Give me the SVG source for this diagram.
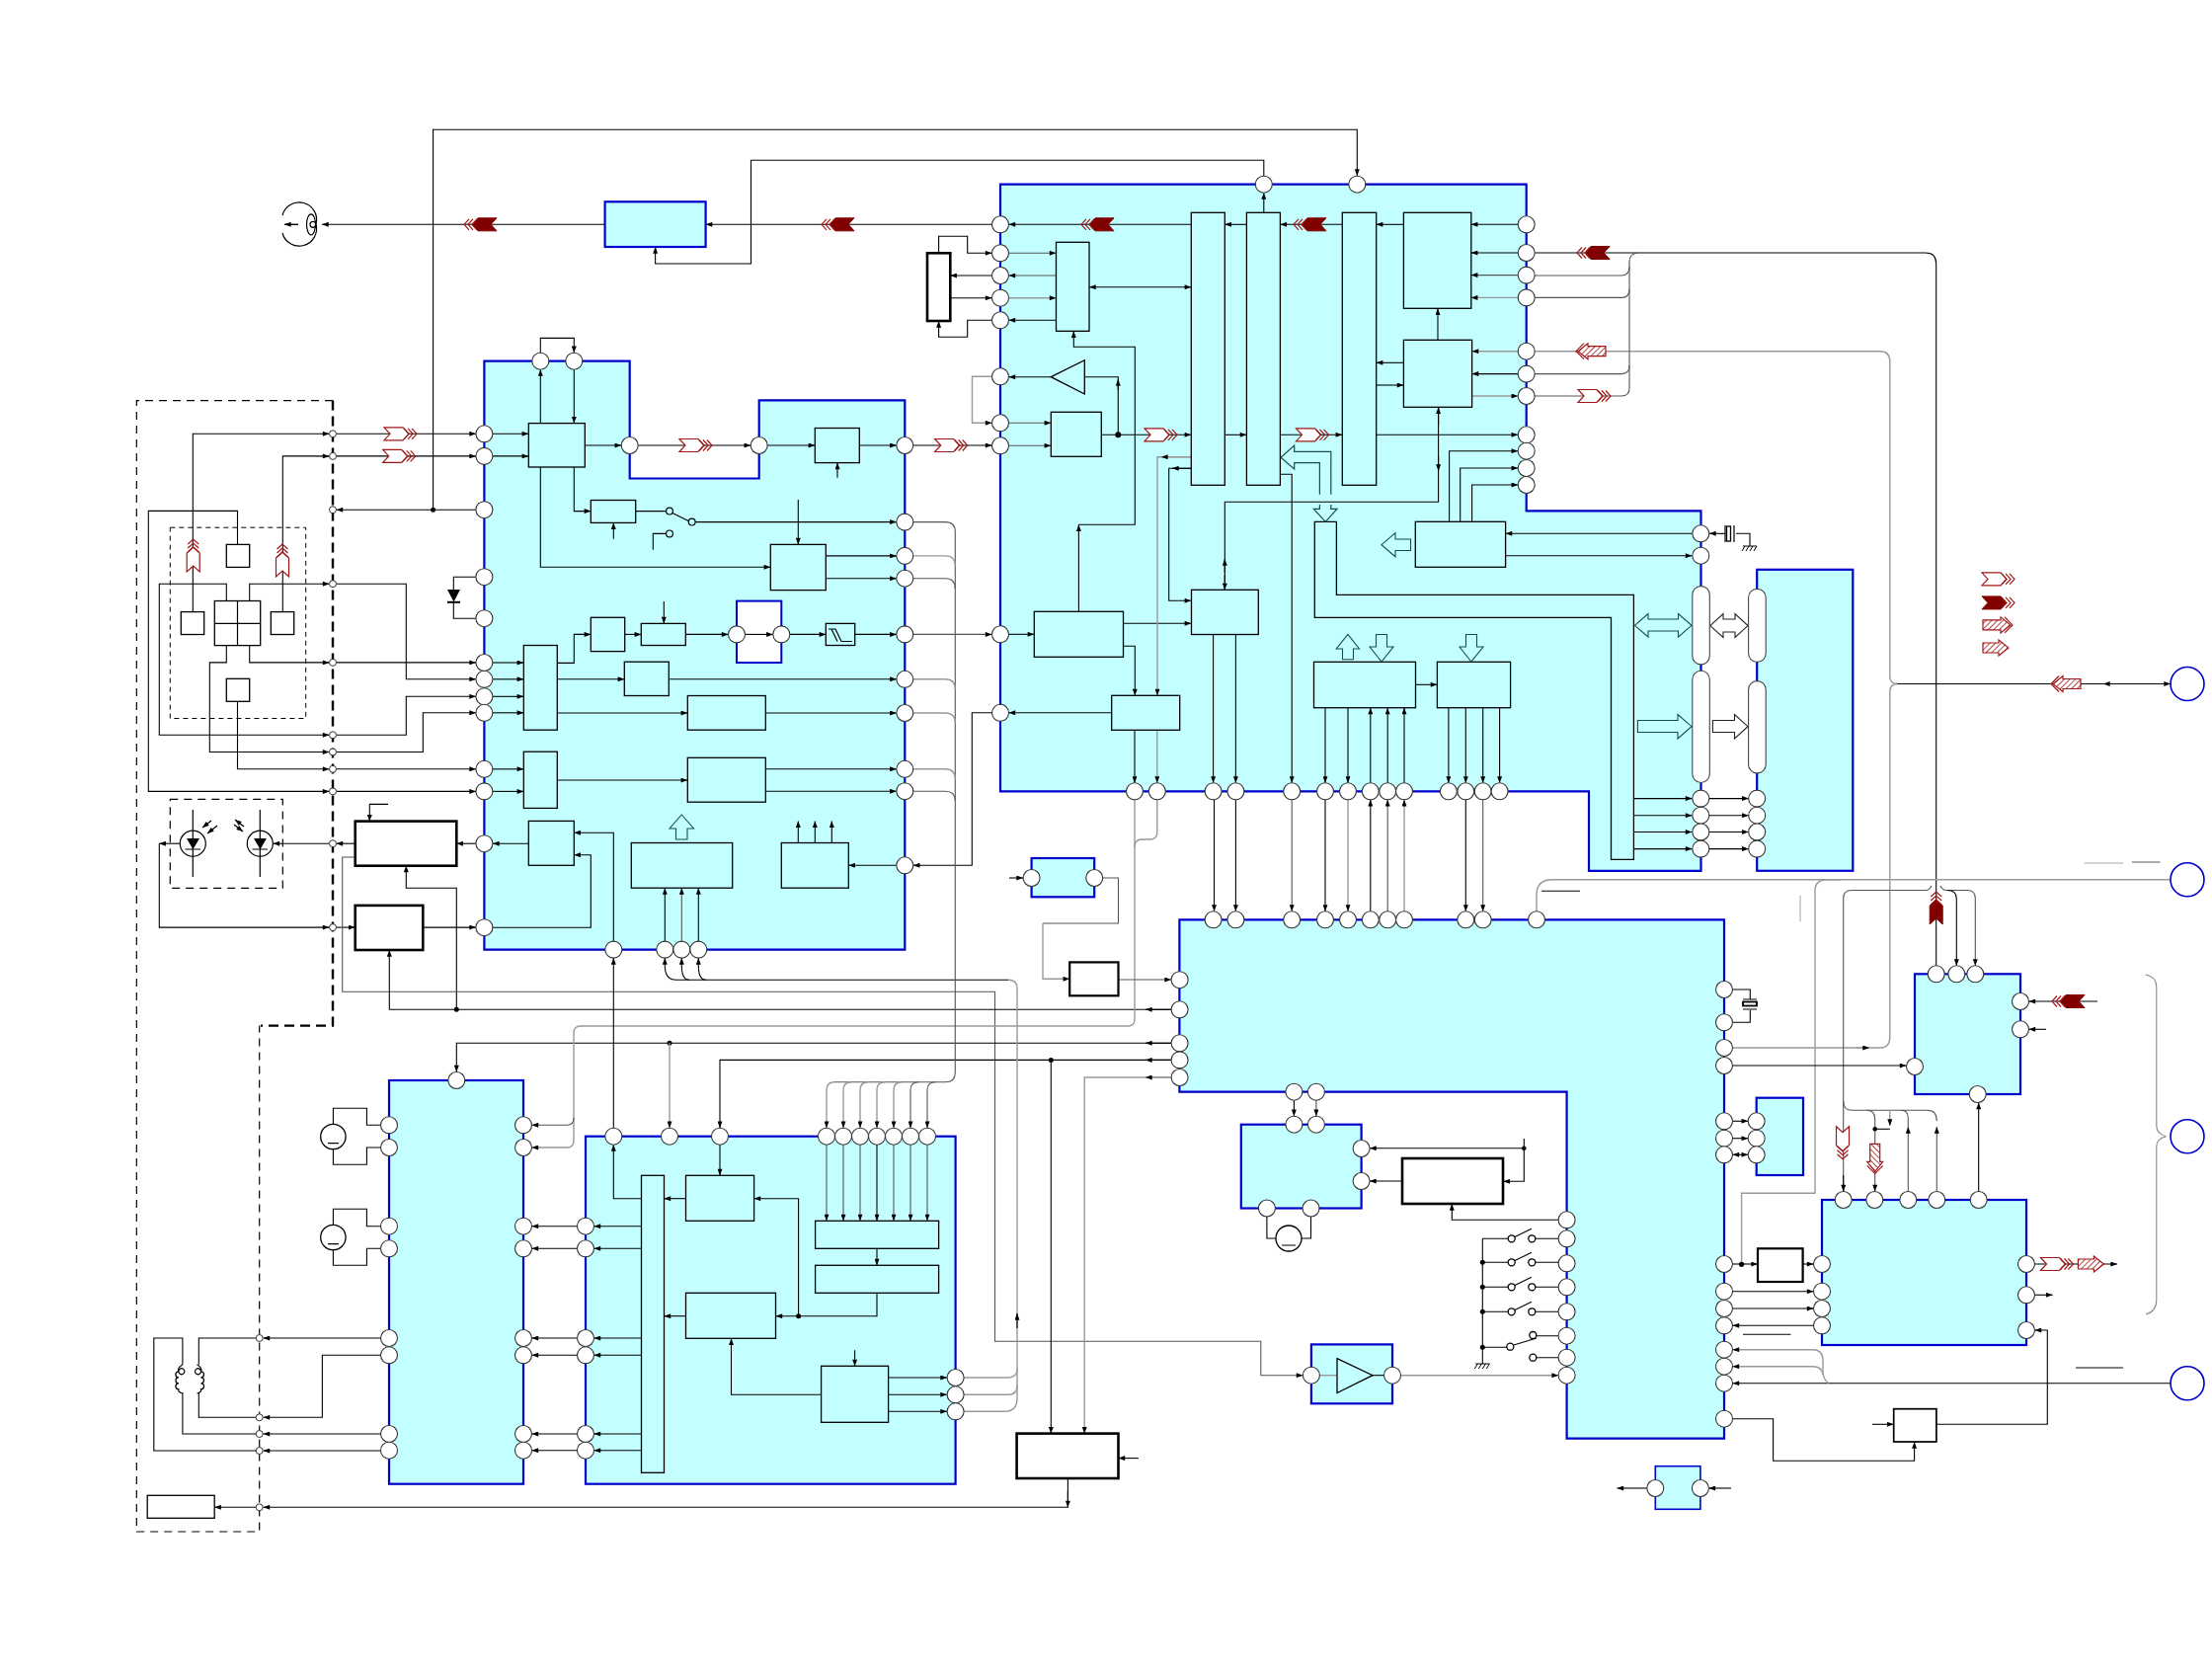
<svg xmlns="http://www.w3.org/2000/svg" width="2240" height="1684" viewBox="0 0 2240 1684">
<style>
.bk{fill:#c4ffff;stroke:#0000cc;stroke-width:2.2}
.bw{fill:#fff;stroke:#0000cc;stroke-width:2}
.x{fill:#c4ffff;stroke:#000;stroke-width:1.3}
.t{fill:#fff;stroke:#000;stroke-width:2.6}
.w{fill:#fff;stroke:#000;stroke-width:1.3}
.p{fill:#fff;stroke:#333;stroke-width:1.1}
.cap{fill:#fff;stroke:#444;stroke-width:1.1}
.big{fill:#fff;stroke:#0000cc;stroke-width:1.6}
#connectors path{fill:none;stroke:#000;stroke-width:1.1}
#connectors path.a{marker-end:url(#h)}
#connectors path.b{marker-start:url(#hs)}
#connectors path.g{stroke:#999;stroke-width:1.4}
#connectors path.d{stroke:#555}
#connectors circle{fill:#000}
.ln{fill:none;stroke:#000;stroke-width:1.2}
.o{fill:#c4ffff;stroke:#1d4a4a;stroke-width:1.1}
.ow{fill:#fff;stroke:#222;stroke-width:1.1}
.rh{fill:none;stroke:#a01818;stroke-width:1.2}
.rf{fill:#800000;stroke:#800000;stroke-width:1}
.rx{fill:url(#hatch);stroke:#a01818;stroke-width:1.2}
.dsh{fill:none;stroke:#000;stroke-width:1.2;stroke-dasharray:8 6}
.dsk{fill:none;stroke:#000;stroke-width:2.4;stroke-dasharray:10 6}
.dsi{fill:none;stroke:#000;stroke-width:1;stroke-dasharray:5 4}
</style>
<defs>
<marker id="h" viewBox="0 0 8 6" refX="8" refY="3" markerUnits="userSpaceOnUse" markerWidth="8" markerHeight="5" orient="auto"><path d="M0 0L8 3L0 6z" fill="#000"/></marker>
<marker id="hs" viewBox="0 0 8 6" refX="8" refY="3" markerUnits="userSpaceOnUse" markerWidth="8" markerHeight="5" orient="auto-start-reverse"><path d="M0 0L8 3L0 6z" fill="#000"/></marker>
<pattern id="hatch" width="4" height="4" patternUnits="userSpaceOnUse" patternTransform="rotate(45)"><rect width="4" height="4" fill="#fff"/><path d="M0 0V4" stroke="#a01818" stroke-width="1.6"/></pattern>
<g id="chev3"><path class="rh" d="M5 -5.5L10 0L5 5.5M9 -5.5L14 0L9 5.5M13 -5.5L18 0L13 5.5"/></g>
<g id="cr"><path class="rh" d="M-16 -6.5H3L9 0L3 6.5H-16L-10 0Z" style="fill:#fff"/><use href="#chev3" x="-1"/></g>
<g id="cf"><path class="rf" d="M-16 -6.5H3L9 0L3 6.5H-16L-10 0Z"/><use href="#chev3" x="-1"/></g>
<g id="hl"><path class="rx" d="M-15 -5H3V-8L13 0L3 8V5H-15Z"/><path class="rh" d="M7 -8L15 0L7 8"/></g>
<g id="hs2"><path class="rx" d="M-13 -5H3V-8L13 0L3 8V5H-13Z"/></g>
<path id="gnd" d="M-7 0H7M-5 0L-8 5M-1 0L-4 5M3 0L0 5M7 0L4 5" fill="none" stroke="#000" stroke-width="1"/>
</defs>
<rect width="2240" height="1684" fill="#fff"/>

<g id="frames">
<path class="dsh" d="M337 405.6H138.3V1551H262.7V1038.6"/>
<path class="dsk" d="M337 405.6V1038.6H264"/>
<rect class="dsi" x="172.3" y="534.2" width="137.4" height="193.3"/>
<rect class="dsh" x="172.3" y="809.4" width="114" height="89.9"/>
</g>

<g id="blocks">
<path id="blockA" class="bk" d="M490.4 365.7H637.7V484.5H768.7V405.3H916.3V961.6H490.4Z"/>
<rect id="insetA" class="bw" x="746" y="608.6" width="45.3" height="62.4"/>
<path id="blockB" class="bk" d="M1013 186.7H1545.7V517.3H1722.5V881.8H1609V801.3H1013Z"/>
<rect id="blockT" class="bk" x="612.6" y="204.3" width="102" height="45.7"/>
<rect id="blockM" class="bk" x="1779.2" y="576.8" width="97.1" height="305"/>
<rect id="blockF" class="bk" x="1044.6" y="869" width="63.6" height="39.3"/>
<path id="blockE" class="bk" d="M1194.4 931.3H1746V1456.7H1586.6V1105.7H1194.4Z"/>
<rect id="blockC" class="bk" x="394" y="1094" width="136" height="408.7"/>
<rect id="blockD" class="bk" x="593" y="1150.7" width="374.6" height="352"/>
<rect id="blockH" class="bk" x="1256.8" y="1138.7" width="121.8" height="84.8"/>
<rect id="blockJ" class="bk" x="1327.9" y="1361.4" width="82.1" height="59.9"/>
<rect id="blockN" class="bk" x="1778.7" y="1111.7" width="47.3" height="78.3"/>
<rect id="blockP" class="bk" x="1939" y="986.3" width="107" height="121.7"/>
<rect id="blockR" class="bk" x="1845" y="1215" width="207" height="147"/>
<rect id="blockU" class="bk" x="1676.3" y="1484.7" width="45.6" height="43.6" style="stroke-width:1.6"/>
</g>

<g id="connectors">
<path class="a" d="M195.3 619.6V439.3H333.5"/><path class="a" d="M340.5 439.3H482"/>
<path class="a" d="M286.3 619.6V461.9H333.5"/><path class="a" d="M340.5 461.9H482"/>
<path class="a" d="M240.5 551.4V517.4H150.3V801.4H333.5"/><path class="a" d="M340.5 801.4H482"/>
<path class="a" d="M229.3 608.5V591.2H161.3V744.3H333.5"/><path class="a" d="M340.5 744.3H411.3V705.3H482"/>
<path class="a" d="M252.7 608.5V591.2H333.5"/><path class="a" d="M340.5 591.2H411.3V687.7H482"/>
<path class="a" d="M252.7 653.6V670.9H333.5"/><path class="a" d="M340.5 670.9H482"/>
<path class="a" d="M229.3 653.6V670.9H212.3V761.5H333.5"/><path class="a" d="M340.5 761.5H428.3V721.8H482"/>
<path class="a" d="M240.5 710.3V778.8H333.5"/><path class="a" d="M340.5 778.8H482"/>
<path class="a" d="M482 516.2H340.5"/><circle cx="438.6" cy="516.2" r="2.5"/>
<path class="a" d="M438.6 516.2V131.3H1374.3V178"/>
<path d="M482 584.2H459.3V597M459.3 609.6V626.2H482"/>
<path class="a" d="M182 854.2H161.3"/><path class="a" d="M161.3 854.2V939.1H333.5"/><path class="a" d="M340.5 939.1H359.7"/>
<path class="a" d="M428.3 939.1H482"/><path class="a" d="M482 854.2H462.3"/><path class="a" d="M359.7 854.2H340.5"/><path class="a" d="M333.5 854.2H276.5"/>
<path class="a" d="M393 814.4H374.3V831.6"/>
<path class="a" d="M462.3 1022.3V899.3H411.3V876.7"/><circle cx="462.3" cy="1022.3" r="2.5"/>
<path class="d" d="M359.7 868H346.7V1004.3H1007.5V1358.3H1276.8V1392.7"/><path class="a d" d="M1276.8 1392.7H1319.4"/>
<path class="a" d="M1186 1022.3H394.3V962"/><path class="a" d="M1186 1022.3H1160"/>
<path class="a" d="M1186 1056.3H462.3V1085.5"/><path class="a" d="M1186 1056.3H1160"/><circle cx="678" cy="1056.3" r="2.5"/>
<path class="a g" d="M678 1056.3V1142.2"/>
<path class="a" d="M1186 1073.4H729V1142.2"/><path class="a" d="M1186 1073.4H1160"/><circle cx="1064.3" cy="1073.4" r="2.5"/>
<path class="a" d="M1064.3 1073.4V1451.6"/>
<path class="a g" d="M1186 1091H1098.2V1451.6"/><path class="a g" d="M1186 1091H1160"/>
<path class="g" d="M1149 809.8V1032Q1149 1039 1142 1039H588Q581 1039 581 1046V1155"/>
<path class="a d" d="M581 1132Q581 1139.3 574 1139.3H538.5"/>
<path class="a g" d="M581 1155Q581 1162 574 1162H538.5"/>
<path class="g" d="M1171.8 809.8V843Q1171.8 850 1164 850H1156Q1149 850 1149 858"/>
<path d="M685 992.3H1021"/><path class="g" d="M1021 992.3Q1030 992.3 1030 1001V1416Q1030 1429.3 1017 1429.3H976"/>
<path class="g" d="M1030 1386Q1030 1395 1021 1395H976"/><path class="g" d="M1030 1403Q1030 1412.3 1021 1412.3H976"/>
<path class="a" d="M1030 1345V1330"/>
<path class="a" d="M685 992.3Q673.3 992.3 673.3 978V970.1"/><path class="a" d="M698 992.3Q690.3 992.3 690.3 978V970.1"/><path class="a" d="M715 992.3Q707.3 992.3 707.3 978V970.1"/>
<path class="a" d="M621.3 1142.2V970.1"/><path class="a" d="M621.3 953V843.3H581.3"/>
<path class="a" d="M649.5 1213.7H621.3V1159.2"/>
<path class="a" d="M673.3 953V899.2"/><path class="a d" d="M690.3 953V899.2"/><path class="a" d="M707.3 953V899.2"/>
<path class="a" d="M499 939.2H598.3V865.7H581.3"/><path class="a" d="M535.3 854.2H499"/>
<path class="a" d="M547.3 428.6V374.2"/><path class="a" d="M581.3 374V428.6"/><path class="a" d="M547.3 357V342.4H581.3V357.2"/>
<path class="a" d="M499 439.3H535.3"/><path class="a" d="M499 461.9H535.3"/>
<path class="a" d="M592.3 451H629.2"/><path class="a" d="M646.2 451H760.2"/><path class="a" d="M777.2 451H825.3"/><path class="a" d="M870.3 451H907.8"/><path class="a" d="M848 483.7V468.6"/>
<path class="a" d="M924.8 451H1004.5"/>
<path class="a" d="M581.3 473V517.6H598.3"/><path class="a" d="M621.3 545.7V529.4"/>
<path d="M643.7 517.6H674.5M681 519.5L697.7 527.7M674.5 540.4H661.3V556.7"/>
<path class="a" d="M704.2 528.6H907.8"/><path class="a" d="M808.3 506V551.4"/>
<path class="a" d="M547.3 473V574.3H780.3"/><path class="a" d="M836.3 562.9H907.8"/><path class="a" d="M836.3 585.7H907.8"/>
<path class="a" d="M499 671H530.3"/><path class="a" d="M499 687.8H530.3"/><path class="a" d="M499 705.3H530.3"/><path class="a" d="M499 721.8H530.3"/>
<path class="a" d="M564.3 671.4H581.3V642.4H598.3"/><path class="a" d="M632.7 642.4H649.3"/><path class="a" d="M694.3 642.4H737.5"/><path class="a" d="M754.5 642.4H782.8"/><path class="a" d="M799.8 642.4H836.3"/><path class="a" d="M865.7 642.4H907.8"/><path class="a" d="M672.3 609V631.4"/>
<path class="a" d="M564.3 687.8H632.3"/><path class="a" d="M677.3 687.8H907.8"/><path class="a" d="M564.3 722H696.3"/><path class="a" d="M775.3 722H907.8"/>
<path class="a" d="M499 778.8H530.3"/><path class="a" d="M499 801.4H530.3"/><path class="a" d="M564.3 790H696.3"/><path class="a" d="M775.3 778.8H907.8"/><path class="a" d="M775.3 801.2H907.8"/>
<path class="a d" d="M924.8 642.4H1004.5"/>
<path class="a" d="M1125.7 721.8H1021.5"/><path class="a" d="M1004.5 721.8H984.3V876.3H924.8"/><path class="a" d="M907.8 876.3H859.3"/>
<path class="a" d="M808.3 853.5V831.4"/><path class="a" d="M825.3 853.5V831.4"/><path class="a" d="M842.3 853.5V831.4"/>
<path class="d" d="M924.8 528.6H957.3Q967.3 528.6 967.3 538.6V1086Q967.3 1095.8 957.3 1095.8H845"/>
<path class="g" d="M924.8 562.9H957.3Q967.3 562.9 967.3 573"/><path class="d" d="M924.8 585.7H957.3Q967.3 585.7 967.3 596"/>
<path class="g" d="M924.8 687.8H957.3Q967.3 687.8 967.3 698"/><path class="g" d="M924.8 722H957.3Q967.3 722 967.3 732"/>
<path class="g" d="M924.8 778.8H957.3Q967.3 778.8 967.3 789"/><path class="d" d="M924.8 801.2H957.3Q967.3 801.2 967.3 811"/>
<path class="a g" d="M845 1095.8Q837 1095.8 837 1104V1142.2"/><path class="a g" d="M862 1095.8Q854 1095.8 854 1104V1142.2"/><path class="a g" d="M879 1095.8Q871 1095.8 871 1104V1142.2"/><path class="a g" d="M896 1095.8Q888 1095.8 888 1104V1142.2"/><path class="a g" d="M913 1095.8Q905 1095.8 905 1104V1142.2"/><path class="a d" d="M930 1095.8Q922 1095.8 922 1104V1142.2"/><path class="a d" d="M947 1095.8Q939 1095.8 939 1104V1142.2"/>
<path class="a d" d="M837 1159.2V1236.3"/><path class="a d" d="M854 1159.2V1236.3"/><path class="a d" d="M871 1159.2V1236.3"/><path class="a" d="M888 1159.2V1236.3"/><path class="a d" d="M905 1159.2V1236.3"/><path class="a d" d="M922 1159.2V1236.3"/><path class="a d" d="M939 1159.2V1236.3"/>
<path class="a" d="M888 1264.3V1281.3"/><path class="a" d="M888 1309.3V1332.7H785.5"/><circle cx="808.6" cy="1332.7" r="2.5"/>
<path class="a" d="M808.6 1332.7V1213.7H763.6"/><path class="a" d="M694.5 1213.7H672.5"/><path class="a" d="M694.5 1332.7H672.5"/>
<path class="a" d="M729 1159.2V1190.3"/><path class="a" d="M831.6 1412.3H740.5V1355.3"/><path class="a" d="M865.6 1367.3V1383.3"/>
<path class="a" d="M899.6 1395H959"/><path class="a" d="M899.6 1412.3H959"/><path class="a" d="M899.6 1429.3H959"/>
<path class="a" d="M649.5 1241.7H601.5"/><path class="a" d="M649.5 1264.3H601.5"/><path class="a" d="M649.5 1355H601.5"/><path class="a" d="M649.5 1372.3H601.5"/><path class="a" d="M649.5 1452H601.5"/><path class="a" d="M649.5 1468.7H601.5"/>
<path class="a" d="M584.5 1241.7H538.5"/><path class="a" d="M584.5 1264.3H538.5"/><path class="a" d="M584.5 1355H538.5"/><path class="a" d="M584.5 1372.3H538.5"/><path class="a" d="M584.5 1452H538.5"/><path class="a" d="M584.5 1468.7H538.5"/>
<path class="a" d="M385.5 1355H266.5"/><path class="a" d="M385.5 1372.3H326.4V1435.3H266.5"/><path class="a" d="M385.5 1452H266.5"/><path class="a" d="M385.5 1469H266.5"/>
<path d="M259 1355H201.3V1381.7M201.3 1410V1435.3H259M259 1469H155.8V1355H184.9V1381.7M184.9 1410V1452H259"/>
<path d="M337.4 1138V1122.3H371.4V1139.3H385.5M337.4 1164V1179.3H371.4V1162H385.5M337.4 1240V1224.3H371.4V1241.7H385.5M337.4 1266V1281.3H371.4V1264.3H385.5"/>

<path class="a" d="M1206.3 227.3H1021.5"/><path class="a" d="M1262.4 227.3H1240.3"/><path class="a" d="M1359.3 227.3H1296.4"/><path class="a" d="M1421.4 227.3H1393.7"/>
<path class="a" d="M1537.2 227.3H1489.8"/><path class="a" d="M1537.2 256H1489.8"/><path class="a d" d="M1537.2 278.6H1489.8"/><path class="a g" d="M1537.2 301.4H1489.8"/>
<path class="a" d="M1279.8 215.3V195.2"/><path class="a" d="M1279.8 178.2V162.3H760.5V267H663.6V250"/>
<path class="a" d="M1004.5 227.3H714.6"/><path class="a" d="M612.6 227.3H326"/>
<path class="a d" d="M1021.5 256.3H1069.5"/><path class="a d" d="M1069.5 279H1021.5"/><path class="a g" d="M1021.5 301.7H1069.5"/><path class="a" d="M1069.5 324.3H1021.5"/>
<path class="a" d="M950.6 256.3V239.3H979.7V256.3H1004.5"/><path class="a" d="M1004.5 279H962.3"/><path class="a" d="M962.3 301.7H1004.5"/><path class="a" d="M1004.5 324.3H979.7V341.3H950.6V325"/>
<path class="a b" d="M1103 290.7H1206.3"/>
<path d="M1098.3 381.7H1132.3V440"/><path class="a" d="M1132.3 395V384"/><path class="a" d="M1064.3 381.7H1021.5"/>
<path class="a g" d="M1004.5 381.3H984.5V428.3H1004.5"/>
<path class="a d" d="M1021.5 428.3H1064.3"/><path class="a d" d="M1021.5 451.3H1064.3"/>
<path class="a" d="M1115.3 440.3H1206.3"/><path class="a" d="M1240.3 440.3H1262.4"/><path class="a" d="M1296.4 440.3H1359.3"/><path class="a" d="M1393.7 440.3H1537.2"/><circle cx="1132.3" cy="440.3" r="3"/>
<path class="a" d="M1092.4 619.3V531.3"/><path class="a" d="M1092.4 531.3H1149.3V351.3H1087.3V335.3"/>
<path class="a" d="M1137.5 654.3H1149.3V704.3"/>
<path class="a" d="M1021.5 642.3H1047.3"/><path class="a" d="M1137.5 631.3H1206.3"/>
<path class="a g" d="M1206.3 462.7H1172V704.3"/><path class="a g" d="M1206.3 462.7H1176"/>
<path class="a" d="M1149 739.3V792.8"/><path class="a g" d="M1171.8 739.3V792.8"/>
<path class="a" d="M1206.3 474.3H1183.7V608.3H1206.3"/><path class="a" d="M1206.3 474.3H1187"/>
<path class="a" d="M1228.6 642.7V792.8"/><path class="a" d="M1251.4 642.7V792.8"/>
<path class="a" d="M1229.5 809.8V922.8"/><path class="a" d="M1251.4 809.8V922.8"/>
<path d="M1240.3 597.3V508.3H1456.6V412.3"/><path class="a" d="M1240.3 582V597.3"/><path class="a" d="M1240.3 580V566"/><path class="a" d="M1456.6 430V412.3"/><path class="a" d="M1456.6 462V477"/>
<path class="a" d="M1456 344.3V312.3"/>
<path class="a g" d="M1537.2 355.7H1490.6"/><path class="a" d="M1537.2 378.6H1490.6"/><path class="a g" d="M1490.6 401H1537.2"/>
<path class="a" d="M1421.4 367.3H1393.7"/><path class="a" d="M1393.7 390H1421.4"/>
<path class="a" d="M1467.6 528.3V456.7H1537.2"/><path class="a" d="M1478.7 528.3V474H1537.2"/><path class="a" d="M1490.6 528.3V491H1537.2"/>
<path class="a" d="M1713.5 540.3H1524.6"/><path class="a" d="M1524.6 562.7H1713.5"/>
<path class="a" d="M1747 540.3H1731"/><path d="M1758 540.3H1772V553"/>
<path class="a" d="M1296.4 480.3H1308.2V792.8"/><path class="a d" d="M1308.2 809.8V922.8"/>
<path class="a" d="M1342 716.7V792.8"/><path class="a" d="M1365 716.7V792.8"/><path class="a" d="M1387.8 792.8V716.7"/><path class="a" d="M1405.2 792.8V716.7"/><path class="a" d="M1422 792.8V716.7"/>
<path class="a" d="M1433.5 693.3H1455.4"/>
<path class="a" d="M1466.9 716.7V792.8"/><path class="a" d="M1484.3 716.7V792.8"/><path class="a" d="M1501.7 716.7V792.8"/><path class="a" d="M1518.6 716.7V792.8"/>
<path class="a" d="M1342 809.8V922.8"/><path class="a g" d="M1365 809.8V922.8"/><path class="a" d="M1387.8 922.8V809.8"/><path class="a d" d="M1405.2 922.8V809.8"/><path class="a g" d="M1422 922.8V809.8"/>
<path class="a" d="M1484.3 809.8V922.8"/><path class="a d" d="M1501.7 809.8V922.8"/>
<path class="a" d="M1654.4 808.6H1713.5"/><path class="a" d="M1654.4 825.7H1713.5"/><path class="a" d="M1654.4 842.5H1713.5"/><path class="a" d="M1654.4 859.6H1713.5"/>
<path class="a" d="M1731 808.6H1770.7"/><path class="a" d="M1731 825.7H1770.7"/><path class="a" d="M1731 842.5H1770.7"/><path class="a" d="M1731 859.6H1770.7"/>

<path class="g" d="M1554.2 355.7H1903.8Q1913.8 355.7 1913.8 366V685Q1913.8 692 1921 692.5"/>
<path class="g" d="M1921 692.5Q1913.8 693 1913.8 700V1050Q1913.8 1061 1904 1061H1754.5"/>
<path class="a g" d="M1880 1061H1893"/>
<path d="M2198 692.5H1921"/><path class="a" d="M2190 692.5H2198"/><path class="a" d="M2140 692.5H2130"/>
<path d="M1554.2 256H1950Q1960.7 256 1960.7 267V977.8"/>
<path class="d" d="M1554.2 279H1642Q1650 279 1650 270"/><path class="d" d="M1554.2 301.4H1642Q1650 301.4 1650 293"/>
<path class="d" d="M1554.2 378.6H1642Q1650 378.6 1650 370"/><path class="d" d="M1554.2 401H1642Q1650 401 1650 393V265Q1650 257 1658 256"/>
<path class="g" d="M2198 890.7H1572Q1556 890.7 1556 906V922.8"/>
<path class="g" d="M1865 890.7H1850Q1838 890.7 1838 902V1208.3H1763.6V1280"/>
<path class="d" d="M1956 897Q1954 901.5 1950 901.5H1875Q1866.7 901.5 1866.7 909.5V1206.5"/><path class="a" d="M1866.7 1190V1206.5"/>
<path class="a d" d="M1965 897Q1967 901.5 1971 901.5H1992Q2000.3 901.5 2000.3 909.5V977.8"/>
<path class="a" d="M1972 901.5Q1981.3 901.5 1981.3 910V977.8"/>
<path class="d" d="M1866.7 1115Q1866.7 1124.3 1875 1124.3H1952Q1961.3 1124.3 1961.3 1135"/>
<path class="a d" d="M1961.3 1206.5V1141"/><path class="a d" d="M1932.3 1206.5V1141"/>
<path class="d" d="M1925 1124.3Q1932.3 1124.3 1932.3 1132V1141"/>
<path class="a d" d="M1890 1124.3Q1898.7 1124.3 1898.7 1133V1206.5"/>
<circle cx="1898.7" cy="1143.3" r="2.3"/>
<path class="a g" d="M1913.8 1124V1140"/><path d="M1913.8 1143.3H1898.7"/>
<path class="a" d="M2003.7 1206.5V1116.5"/>
<path class="a" d="M1754.5 1079H1930.5"/><path class="a" d="M2124 1014H2054.5"/><path class="a" d="M2072 1042.3H2054.5"/>
<path d="M1754.5 1002H1772.3V1012M1772.3 1023V1035.3H1754.5"/>
<path class="a" d="M1754.5 1135.3H1770.2"/><path class="a" d="M1754.5 1152.7H1770.2"/><path class="a b" d="M1754.5 1169.3H1770.2"/>
<path class="a" d="M1754.5 1280H1780"/><circle cx="1763.6" cy="1280.3" r="2.6"/><path class="a" d="M1825.6 1280H1836.5"/>
<path class="a" d="M1754.5 1307.7H1836.5"/><path class="a" d="M1754.5 1325H1836.5"/><path class="a" d="M1836.5 1342.3H1754.5"/>
<path class="a" d="M2198 1400.7H1754.5"/>
<path class="a g" d="M1852 1400.7Q1847 1398 1846 1390V1376Q1845 1366.7 1836 1366.7H1754.5"/>
<path class="a g" d="M1846 1392Q1845 1383.7 1836 1383.7H1754.5"/>
<path class="a" d="M1754.5 1436.7H1795.6V1479.3H1938.6V1460"/>
<path class="a" d="M1896 1442.3H1917.7"/><path class="a" d="M1960.9 1442.3H2073.3V1347H2060.5"/>
<path class="a" d="M2060.5 1280H2144"/><path class="a" d="M2060.5 1311.3H2078.6"/>
<path class="a" d="M1667.8 1507H1637.5"/><path class="a" d="M1753 1507H1730.4"/>
<path class="a" d="M1310.4 1114.2V1130.2"/><path class="a d" d="M1332.9 1114.2V1130.2"/>
<path class="a" d="M1543.3 1162.7H1387"/><path d="M1543.3 1153V1162.7"/><path class="a" d="M1543.3 1162.7V1196.3H1522.3"/><path class="a" d="M1420 1196H1387"/><circle cx="1543.3" cy="1162.7" r="2.3"/>
<path class="a" d="M1578.1 1235.3H1470.3V1219"/>
<path d="M1282.9 1232V1254H1292M1327.5 1232V1254H1318"/>
<path class="g" d="M1336.4 1392.7H1354"/><path d="M1390 1392.7H1401.5"/><path class="a g" d="M1418.5 1392.7H1578.1"/>
<path class="a" d="M1022 889H1036"/><path class="d" d="M1116.7 889H1132.5V935H1056"/><path class="a g" d="M1056 935V991.3H1083.2"/><path class="a d" d="M1132.5 992H1186"/>
<path class="a" d="M1152.9 1476.6H1132.5"/><path class="a" d="M1081.4 1497V1526.3H266.5"/><path class="a" d="M1081.4 1510V1526.3"/><path class="a" d="M259 1526.3H217.2"/>
<path d="M1501.3 1254.3V1381M1501.3 1254.3H1527.2M1501.3 1278.3H1527.2M1501.3 1303.3H1527.2M1501.3 1328.3H1527.2M1501.3 1364.3H1525.8"/>
<path d="M1534 1252.5L1551 1244.3M1534 1276.5L1551 1268.3M1534 1301.5L1551 1293.3M1534 1326.5L1551 1318.3M1533 1362L1556 1355"/>
<path d="M1554.8 1254.3H1578.1M1554.8 1278.3H1578.1M1554.8 1303.3H1578.1M1554.8 1328.3H1578.1M1555.8 1352.7H1578.1M1555.8 1374.7H1578.1"/>
<circle cx="1501.3" cy="1278.3" r="2.5"/><circle cx="1501.3" cy="1303.3" r="2.5"/><circle cx="1501.3" cy="1328.3" r="2.5"/><circle cx="1501.3" cy="1364.3" r="2.5"/>
<path d="M2172.8 987Q2183.8 989 2183.8 1000V1140Q2183.8 1148 2193.5 1150.7Q2183.8 1153 2183.8 1161V1316Q2183.8 1328 2173 1331" style="stroke:#888"/>
<path d="M1561 902.3H1600"/><path d="M1765 1351.3H1813.5"/><path d="M2102 1385H2150"/>
<path d="M1823 906.7V933.3" style="stroke:#aaa"/><path d="M2110.5 874H2150" style="stroke:#aaa"/><path d="M2159 873H2187.5" style="stroke:#666"/>
</g>

<g id="optics">
<rect class="w" x="229.3" y="551.4" width="23.4" height="23"/>
<rect class="w" x="183.3" y="619.6" width="23.4" height="22.9"/>
<rect class="w" x="274.3" y="619.6" width="23.4" height="22.9"/>
<rect class="w" x="217.3" y="608.5" width="46.4" height="45.1"/>
<path class="ln" d="M240.5 608.5V653.6M217.3 631.4H263.7"/>
<rect class="w" x="229.3" y="687.3" width="23.4" height="23"/>
<path d="M453 597H466L459.5 609.6Z" fill="#000"/><path d="M453 609.8H466" stroke="#000" stroke-width="2"/>
</g>
<g id="leds">
<circle class="ln" cx="195.3" cy="854.2" r="13"/><circle class="ln" cx="263.3" cy="854.2" r="13"/>
<path class="ln" d="M195.3 820V888M263.3 820V888M187.5 860H203M255.5 860H271"/>
<path d="M189 849H202L195.5 860ZM257 849H270L263.5 860Z" fill="#000"/>
<path class="ln" marker-end="url(#h)" d="M214 831L205 838"/><path class="ln" marker-end="url(#h)" d="M220 836L210 844"/>
<path class="ln" marker-end="url(#h)" d="M238 841L247 848" transform="rotate(180 242.5 839)"/><path class="ln" marker-end="url(#h)" d="M237 835L246 842"/>
</g>
<g id="coils">
<path class="ln" d="M184.9 1381.7q-6 4-4 7a3 3 0 1 1 0 .1a3 3 0 1 0 0 6a3 3 0 1 0 0 6a3 3 0 1 0 0 6q-1 3 4 4.2"/>
<path class="ln" d="M199.5 1381.7q6 4 4 7a3 3 0 1 0 0 .1a3 3 0 1 1 0 6a3 3 0 1 1 0 6a3 3 0 1 1 0 6q1 3 -4 4.2"/>
</g>
<g id="eye">
<path class="ln" d="M286 218A17 17 0 0 1 320 227A17 17 0 0 1 286 236"/>
<ellipse class="ln" cx="315" cy="227.3" rx="4.5" ry="10.5"/><circle class="ln" cx="317" cy="227.3" r="3"/>
<path d="M302 227.3H288" stroke="#000" stroke-width="1.4" fill="none" marker-end="url(#h)"/>
</g>
<g id="motors">
<circle class="w" cx="337.4" cy="1151" r="12.7"/><circle class="w" cx="337.4" cy="1253" r="12.7"/><circle class="w" cx="1305" cy="1254" r="13"/>
<path class="ln" d="M332 1157.7H343M332 1259.7H343M1298 1261H1312" />
</g>
<g id="crystals">
<path class="ln" d="M1747 532V549M1756 532V549"/><rect class="w" x="1748.5" y="533" width="4" height="15"/>
<rect class="w" x="1765" y="1014.5" width="14" height="4" style="stroke-width:1.8"/><path class="ln" d="M1765 1012H1779M1765 1022H1779"/>
<use href="#gnd" x="1772" y="553"/><use href="#gnd" x="1501.3" y="1381"/>
</g>

<g id="boxesA">
<g id="A1"><rect class="x" x="535.3" y="428.6" width="57" height="44.4"/></g>
<g id="A2"><rect class="x" x="825.3" y="433.5" width="45" height="35.1"/></g>
<g id="A3"><rect class="x" x="598.3" y="506.5" width="45.4" height="22.9"/></g>
<g id="A4"><rect class="x" x="780.3" y="551.4" width="56" height="46.2"/></g>
<g id="A5"><rect class="x" x="530.3" y="653.5" width="34" height="85.7"/></g>
<g id="A6"><rect class="x" x="598.3" y="625.3" width="34.4" height="34.3"/></g>
<g id="A7"><rect class="x" x="649.3" y="631.4" width="45" height="22.1"/></g>
<g id="A8"><rect class="x" x="632.3" y="670.2" width="45" height="34.3"/></g>
<g id="A9"><rect class="x" x="696.3" y="704.5" width="79" height="34.7"/></g>
<g id="A10"><rect class="x" x="530.3" y="761.2" width="34" height="57.2"/></g>
<g id="A11"><rect class="x" x="696.3" y="767.3" width="79" height="44.9"/></g>
<g id="A12"><rect class="x" x="535.3" y="831.4" width="46" height="44.9"/></g>
<g id="A13"><rect class="x" x="639.3" y="853.5" width="102.4" height="45.7"/><path class="o" d="M690.3 825L702.5 839H696V850H684.5V839H678Z"/></g>
<g id="A14"><rect class="x" x="791.3" y="853.5" width="68" height="45.7"/></g>
<g id="hyst"><rect class="x" x="836.3" y="631.4" width="29.4" height="22.1"/><path class="ln" d="M839 637H846L852 649.5H863M842 637L848 649.5"/></g>
<circle class="ln" cx="678" cy="517.6" r="3.4" style="fill:#c4ffff"/><circle class="ln" cx="700.7" cy="528.6" r="3.4" style="fill:#c4ffff"/><circle class="ln" cx="678" cy="540.4" r="3.4" style="fill:#c4ffff"/>
</g>

<g id="boxesB">
<g id="B1"><rect class="x" x="1206.3" y="215.3" width="34" height="276"/></g>
<g id="B2"><rect class="x" x="1262.4" y="215.3" width="34" height="276"/></g>
<g id="B3"><rect class="x" x="1359.3" y="215.3" width="34.4" height="276"/></g>
<g id="B4"><rect class="x" x="1421.4" y="215.3" width="68.4" height="97"/></g>
<g id="B5"><rect class="x" x="1421.4" y="344.3" width="69.2" height="68"/></g>
<g id="B6"><rect class="x" x="1069.5" y="245.3" width="33.5" height="90"/></g>
<g id="ampB"><path class="x" d="M1064.3 381.7L1098.3 364.7V399Z"/></g>
<g id="B7"><rect class="x" x="1064.3" y="417.3" width="51" height="45"/></g>
<g id="B8"><rect class="x" x="1047.3" y="619.3" width="90.2" height="46"/></g>
<g id="B9"><rect class="x" x="1206.5" y="597.3" width="67.8" height="45.2"/></g>
<g id="B10"><rect class="x" x="1433.3" y="528.3" width="91.3" height="46"/><path class="o" d="M1399 551.7L1413 539.7V546H1428.5V557.5H1413V563.7Z"/></g>
<g id="B11"><path class="x" d="M1331.3 528.3H1353.4V602.3H1654.4V870.3H1631.5V625.3H1331.3Z"/>
<path class="o" d="M1336.4 511V515.3H1330.4L1342.3 528.3L1354 515.3H1347.8V511Z" style="stroke:none"/>
<path class="ln" d="M1336.4 511V515.3H1330.4L1342.3 528.3L1354 515.3H1347.8V511" style="stroke:#1d4a4a"/>
<path class="ln" d="M1336.4 500.7V468.7H1310.7V475L1297 463.3L1310.7 451V457.3H1347.8V500.7" style="stroke:#1d4a4a"/></g>
<g id="B12"><rect class="x" x="1330.5" y="670.3" width="103" height="46.4"/><path class="o" d="M1364.9 642.3L1376.5 657H1370.5V667.7H1359.5V657H1353.2Z"/><path class="o" d="M1399 670L1387 655H1393.5V642.5H1404.5V655H1411Z"/></g>
<g id="B13"><rect class="x" x="1455.4" y="670.3" width="74.2" height="46.4"/><path class="o" d="M1489.8 670L1478 655H1484.5V642.5H1495.5V655H1502Z"/></g>
<g id="B14"><rect class="x" x="1125.7" y="704.3" width="69" height="35"/></g>
<path class="o" d="M1655.4 633.3L1669 621.5V627H1699.5V621.5L1713 633.3L1699.5 645V639H1669V645Z"/>
<path class="o" d="M1658.4 729.5H1699V723.5L1713 735.7L1699 748V741.5H1658.4Z"/>
<path class="ow" d="M1731.8 633.6L1745 621.5V627H1757V621.5L1770 633.6L1757 645.5V640H1745V645.5Z"/>
<path class="ow" d="M1734.4 729.5H1756.5V723.5L1770 735.7L1756.5 748V741.5H1734.4Z"/>
</g>

<g id="boxesD">
<g id="D0"><rect class="x" x="649.5" y="1190.3" width="23" height="301"/></g>
<g id="D1"><rect class="x" x="694.5" y="1190.3" width="69.1" height="46"/></g>
<g id="D2"><rect class="x" x="694.5" y="1309.3" width="91" height="46"/></g>
<g id="D3"><rect class="x" x="825.6" y="1236.3" width="125" height="28"/></g>
<g id="D4"><rect class="x" x="825.6" y="1281.3" width="125" height="28"/></g>
<g id="D5"><rect class="x" x="831.6" y="1383.3" width="68" height="57"/></g>
</g>

<g id="boxesOther">
<g id="thickB"><rect class="t" x="939" y="256.3" width="23.3" height="68.7"/></g>
<g id="thickL1"><rect class="t" x="359.7" y="831.6" width="102.6" height="45.1"/></g>
<g id="thickL2"><rect class="t" x="359.7" y="916.9" width="68.6" height="45.1"/></g>
<g id="boxG"><rect class="t" x="1083.2" y="974.4" width="49.3" height="33.9" style="stroke-width:2.2"/></g>
<g id="boxI"><rect class="t" x="1420" y="1173" width="102" height="46"/></g>
<g id="boxK"><rect class="t" x="1029.6" y="1451.6" width="102.9" height="45.4"/></g>
<g id="boxL"><rect class="w" x="149.2" y="1514.3" width="68" height="23"/></g>
<g id="boxQ"><rect class="t" x="1780" y="1264.3" width="45.6" height="33.7" style="stroke-width:2.2"/></g>
<g id="boxS"><rect class="w" x="1917.7" y="1426.7" width="43.2" height="33.3" style="stroke-width:1.7"/></g>
<g id="ampJ"><path class="x" d="M1354 1375.7L1390 1392.7L1354 1410.5Z"/></g>
<circle class="w" cx="1530.7" cy="1254.3" r="3.5"/><circle class="w" cx="1551.3" cy="1254.3" r="3.5"/>
<circle class="w" cx="1530.7" cy="1278.3" r="3.5"/><circle class="w" cx="1551.3" cy="1278.3" r="3.5"/>
<circle class="w" cx="1530.7" cy="1303.3" r="3.5"/><circle class="w" cx="1551.3" cy="1303.3" r="3.5"/>
<circle class="w" cx="1530.7" cy="1328.3" r="3.5"/><circle class="w" cx="1551.3" cy="1328.3" r="3.5"/>
<circle class="w" cx="1529.3" cy="1363.7" r="3.5"/><circle class="w" cx="1552.3" cy="1352" r="3.5"/><circle class="w" cx="1552.3" cy="1374.7" r="3.5"/>
</g>

<g id="capsules">
<rect class="cap" x="1713.8" y="593.6" width="17.5" height="79.3" rx="8.7"/>
<rect class="cap" x="1713.8" y="679.3" width="17.5" height="113.2" rx="8.7"/>
<rect class="cap" x="1770.6" y="596.4" width="17.6" height="74" rx="8.7"/>
<rect class="cap" x="1770.6" y="689.6" width="17.6" height="93.3" rx="8.7"/>
</g>

<g id="pins">
<g fill="#fff" stroke="#333" stroke-width="1">
<circle cx="337" cy="439.3" r="3.5"/><circle cx="337" cy="461.9" r="3.5"/><circle cx="337" cy="516.2" r="3.5"/><circle cx="337" cy="591.2" r="3.5"/><circle cx="337" cy="670.9" r="3.5"/><circle cx="337" cy="744.3" r="3.5"/><circle cx="337" cy="761.5" r="3.5"/><circle cx="337" cy="778.8" r="3.5"/><circle cx="337" cy="801.4" r="3.5"/><circle cx="337" cy="854.2" r="3.5"/><circle cx="337" cy="939.1" r="3.5"/>
<circle cx="262.7" cy="1355" r="3.5"/><circle cx="262.7" cy="1435.3" r="3.5"/><circle cx="262.7" cy="1452" r="3.5"/><circle cx="262.7" cy="1469" r="3.5"/><circle cx="262.7" cy="1526.3" r="3.5"/>
</g>
<g id="pinsA">
<circle class="p" cx="490.4" cy="439.3" r="8.5"/><circle class="p" cx="490.4" cy="461.9" r="8.5"/><circle class="p" cx="490.4" cy="516.2" r="8.5"/><circle class="p" cx="490.4" cy="584.2" r="8.5"/><circle class="p" cx="490.4" cy="626.2" r="8.5"/><circle class="p" cx="490.4" cy="671" r="8.5"/><circle class="p" cx="490.4" cy="687.8" r="8.5"/><circle class="p" cx="490.4" cy="705.3" r="8.5"/><circle class="p" cx="490.4" cy="721.8" r="8.5"/><circle class="p" cx="490.4" cy="778.8" r="8.5"/><circle class="p" cx="490.4" cy="801.4" r="8.5"/><circle class="p" cx="490.4" cy="854.2" r="8.5"/><circle class="p" cx="490.4" cy="939.2" r="8.5"/>
<circle class="p" cx="547.3" cy="365.7" r="8.5"/><circle class="p" cx="581.3" cy="365.7" r="8.5"/><circle class="p" cx="637.7" cy="451" r="8.5"/><circle class="p" cx="768.7" cy="451" r="8.5"/><circle class="p" cx="746" cy="642.4" r="8.5"/><circle class="p" cx="791.3" cy="642.4" r="8.5"/>
<circle class="p" cx="916.3" cy="451" r="8.5"/><circle class="p" cx="916.3" cy="528.6" r="8.5"/><circle class="p" cx="916.3" cy="562.9" r="8.5"/><circle class="p" cx="916.3" cy="585.7" r="8.5"/><circle class="p" cx="916.3" cy="642.4" r="8.5"/><circle class="p" cx="916.3" cy="687.8" r="8.5"/><circle class="p" cx="916.3" cy="722" r="8.5"/><circle class="p" cx="916.3" cy="778.8" r="8.5"/><circle class="p" cx="916.3" cy="801.2" r="8.5"/><circle class="p" cx="916.3" cy="876.3" r="8.5"/>
<circle class="p" cx="621.3" cy="961.6" r="8.5"/><circle class="p" cx="673.3" cy="961.6" r="8.5"/><circle class="p" cx="690.3" cy="961.6" r="8.5"/><circle class="p" cx="707.3" cy="961.6" r="8.5"/>
</g>
<g id="pinsB">
<circle class="p" cx="1013" cy="227.3" r="8.5"/><circle class="p" cx="1013" cy="256.3" r="8.5"/><circle class="p" cx="1013" cy="279" r="8.5"/><circle class="p" cx="1013" cy="301.7" r="8.5"/><circle class="p" cx="1013" cy="324.3" r="8.5"/><circle class="p" cx="1013" cy="381.3" r="8.5"/><circle class="p" cx="1013" cy="428.3" r="8.5"/><circle class="p" cx="1013" cy="451.3" r="8.5"/><circle class="p" cx="1013" cy="642.3" r="8.5"/><circle class="p" cx="1013" cy="721.8" r="8.5"/>
<circle class="p" cx="1279.8" cy="186.7" r="8.5"/><circle class="p" cx="1374.3" cy="186.7" r="8.5"/>
<circle class="p" cx="1545.7" cy="227.3" r="8.5"/><circle class="p" cx="1545.7" cy="256" r="8.5"/><circle class="p" cx="1545.7" cy="278.6" r="8.5"/><circle class="p" cx="1545.7" cy="301.4" r="8.5"/><circle class="p" cx="1545.7" cy="355.7" r="8.5"/><circle class="p" cx="1545.7" cy="378.6" r="8.5"/><circle class="p" cx="1545.7" cy="401" r="8.5"/><circle class="p" cx="1545.7" cy="440.3" r="8.5"/><circle class="p" cx="1545.7" cy="456.7" r="8.5"/><circle class="p" cx="1545.7" cy="474" r="8.5"/><circle class="p" cx="1545.7" cy="491" r="8.5"/>
<circle class="p" cx="1722.3" cy="540.3" r="8.5"/><circle class="p" cx="1722.3" cy="562.7" r="8.5"/>
<circle class="p" cx="1722.3" cy="808.6" r="8.5"/><circle class="p" cx="1722.3" cy="825.7" r="8.5"/><circle class="p" cx="1722.3" cy="842.5" r="8.5"/><circle class="p" cx="1722.3" cy="859.6" r="8.5"/>
<circle class="p" cx="1779.2" cy="808.6" r="8.5"/><circle class="p" cx="1779.2" cy="825.7" r="8.5"/><circle class="p" cx="1779.2" cy="842.5" r="8.5"/><circle class="p" cx="1779.2" cy="859.6" r="8.5"/>
<circle class="p" cx="1149" cy="801.3" r="8.5"/><circle class="p" cx="1171.8" cy="801.3" r="8.5"/><circle class="p" cx="1228.6" cy="801.3" r="8.5"/><circle class="p" cx="1251.4" cy="801.3" r="8.5"/><circle class="p" cx="1308.2" cy="801.3" r="8.5"/><circle class="p" cx="1342" cy="801.3" r="8.5"/><circle class="p" cx="1365" cy="801.3" r="8.5"/><circle class="p" cx="1387.8" cy="801.3" r="8.5"/><circle class="p" cx="1405.2" cy="801.3" r="8.5"/><circle class="p" cx="1422" cy="801.3" r="8.5"/><circle class="p" cx="1466.9" cy="801.3" r="8.5"/><circle class="p" cx="1484.3" cy="801.3" r="8.5"/><circle class="p" cx="1501.7" cy="801.3" r="8.5"/><circle class="p" cx="1518.6" cy="801.3" r="8.5"/>
</g>
<g id="pinsE">
<circle class="p" cx="1228.6" cy="931.3" r="8.5"/><circle class="p" cx="1251.4" cy="931.3" r="8.5"/><circle class="p" cx="1308.2" cy="931.3" r="8.5"/><circle class="p" cx="1342" cy="931.3" r="8.5"/><circle class="p" cx="1365" cy="931.3" r="8.5"/><circle class="p" cx="1387.8" cy="931.3" r="8.5"/><circle class="p" cx="1405.2" cy="931.3" r="8.5"/><circle class="p" cx="1422" cy="931.3" r="8.5"/><circle class="p" cx="1484.3" cy="931.3" r="8.5"/><circle class="p" cx="1501.7" cy="931.3" r="8.5"/><circle class="p" cx="1556" cy="931.3" r="8.5"/>
<circle class="p" cx="1194.6" cy="992.2" r="8.5"/><circle class="p" cx="1194.6" cy="1022.3" r="8.5"/><circle class="p" cx="1194.6" cy="1056.3" r="8.5"/><circle class="p" cx="1194.6" cy="1073.4" r="8.5"/><circle class="p" cx="1194.6" cy="1091" r="8.5"/>
<circle class="p" cx="1310.4" cy="1105.7" r="8.5"/><circle class="p" cx="1332.9" cy="1105.7" r="8.5"/>
<circle class="p" cx="1746" cy="1002" r="8.5"/><circle class="p" cx="1746" cy="1035.3" r="8.5"/><circle class="p" cx="1746" cy="1061" r="8.5"/><circle class="p" cx="1746" cy="1079" r="8.5"/><circle class="p" cx="1746" cy="1135.3" r="8.5"/><circle class="p" cx="1746" cy="1152.7" r="8.5"/><circle class="p" cx="1746" cy="1169.3" r="8.5"/><circle class="p" cx="1746" cy="1280" r="8.5"/><circle class="p" cx="1746" cy="1307.7" r="8.5"/><circle class="p" cx="1746" cy="1325" r="8.5"/><circle class="p" cx="1746" cy="1342.3" r="8.5"/><circle class="p" cx="1746" cy="1366.7" r="8.5"/><circle class="p" cx="1746" cy="1383.7" r="8.5"/><circle class="p" cx="1746" cy="1400.7" r="8.5"/><circle class="p" cx="1746" cy="1436.7" r="8.5"/>
<circle class="p" cx="1586.6" cy="1235.3" r="8.5"/><circle class="p" cx="1586.6" cy="1254.3" r="8.5"/><circle class="p" cx="1586.6" cy="1279.3" r="8.5"/><circle class="p" cx="1586.6" cy="1303.3" r="8.5"/><circle class="p" cx="1586.6" cy="1328.3" r="8.5"/><circle class="p" cx="1586.6" cy="1352.7" r="8.5"/><circle class="p" cx="1586.6" cy="1374.7" r="8.5"/><circle class="p" cx="1586.6" cy="1392.7" r="8.5"/>
</g>
<g id="pinsCD">
<circle class="p" cx="462.3" cy="1094" r="8.5"/>
<circle class="p" cx="394" cy="1139.3" r="8.5"/><circle class="p" cx="394" cy="1162" r="8.5"/><circle class="p" cx="394" cy="1241.7" r="8.5"/><circle class="p" cx="394" cy="1264.3" r="8.5"/><circle class="p" cx="394" cy="1355" r="8.5"/><circle class="p" cx="394" cy="1372.3" r="8.5"/><circle class="p" cx="394" cy="1452" r="8.5"/><circle class="p" cx="394" cy="1468.7" r="8.5"/>
<circle class="p" cx="530" cy="1139.3" r="8.5"/><circle class="p" cx="530" cy="1162" r="8.5"/><circle class="p" cx="530" cy="1241.7" r="8.5"/><circle class="p" cx="530" cy="1264.3" r="8.5"/><circle class="p" cx="530" cy="1355" r="8.5"/><circle class="p" cx="530" cy="1372.3" r="8.5"/><circle class="p" cx="530" cy="1452" r="8.5"/><circle class="p" cx="530" cy="1468.7" r="8.5"/>
<circle class="p" cx="593" cy="1241.7" r="8.5"/><circle class="p" cx="593" cy="1264.3" r="8.5"/><circle class="p" cx="593" cy="1355" r="8.5"/><circle class="p" cx="593" cy="1372.3" r="8.5"/><circle class="p" cx="593" cy="1452" r="8.5"/><circle class="p" cx="593" cy="1468.7" r="8.5"/>
<circle class="p" cx="621.3" cy="1150.7" r="8.5"/><circle class="p" cx="678" cy="1150.7" r="8.5"/><circle class="p" cx="729" cy="1150.7" r="8.5"/><circle class="p" cx="837" cy="1150.7" r="8.5"/><circle class="p" cx="854" cy="1150.7" r="8.5"/><circle class="p" cx="871" cy="1150.7" r="8.5"/><circle class="p" cx="888" cy="1150.7" r="8.5"/><circle class="p" cx="905" cy="1150.7" r="8.5"/><circle class="p" cx="922" cy="1150.7" r="8.5"/><circle class="p" cx="939" cy="1150.7" r="8.5"/>
<circle class="p" cx="967.6" cy="1395" r="8.5"/><circle class="p" cx="967.6" cy="1412.3" r="8.5"/><circle class="p" cx="967.6" cy="1429.3" r="8.5"/>
</g>
<g id="pinsOther">
<circle class="p" cx="1044.6" cy="889" r="8.5"/><circle class="p" cx="1108.2" cy="889" r="8.5"/>
<circle class="p" cx="1310.4" cy="1138.7" r="8.5"/><circle class="p" cx="1332.9" cy="1138.7" r="8.5"/><circle class="p" cx="1282.9" cy="1223.5" r="8.5"/><circle class="p" cx="1327.5" cy="1223.5" r="8.5"/><circle class="p" cx="1378.6" cy="1163" r="8.5"/><circle class="p" cx="1378.6" cy="1196" r="8.5"/>
<circle class="p" cx="1327.9" cy="1392.7" r="8.5"/><circle class="p" cx="1410" cy="1392.7" r="8.5"/>
<circle class="p" cx="1778.7" cy="1135.3" r="8.5"/><circle class="p" cx="1778.7" cy="1152.7" r="8.5"/><circle class="p" cx="1778.7" cy="1169.3" r="8.5"/>
<circle class="p" cx="1960.7" cy="986.3" r="8.5"/><circle class="p" cx="1981.3" cy="986.3" r="8.5"/><circle class="p" cx="2000.3" cy="986.3" r="8.5"/><circle class="p" cx="2046" cy="1014" r="8.5"/><circle class="p" cx="2046" cy="1042.3" r="8.5"/><circle class="p" cx="1939" cy="1080" r="8.5"/><circle class="p" cx="2002.7" cy="1108" r="8.5"/>
<circle class="p" cx="1845" cy="1280" r="8.5"/><circle class="p" cx="1845" cy="1307.7" r="8.5"/><circle class="p" cx="1845" cy="1325" r="8.5"/><circle class="p" cx="1845" cy="1342.3" r="8.5"/>
<circle class="p" cx="1866.7" cy="1215" r="8.5"/><circle class="p" cx="1898.3" cy="1215" r="8.5"/><circle class="p" cx="1932.3" cy="1215" r="8.5"/><circle class="p" cx="1961.3" cy="1215" r="8.5"/><circle class="p" cx="2003.7" cy="1215" r="8.5"/>
<circle class="p" cx="2052" cy="1280" r="8.5"/><circle class="p" cx="2052" cy="1311.3" r="8.5"/><circle class="p" cx="2052" cy="1347" r="8.5"/>
<circle class="p" cx="1676.3" cy="1507" r="8.5"/><circle class="p" cx="1721.9" cy="1507" r="8.5"/>
<circle class="big" cx="2215" cy="692.5" r="17"/><circle class="big" cx="2215" cy="890.7" r="17"/><circle class="big" cx="2215" cy="1150.7" r="17"/><circle class="big" cx="2215" cy="1400.7" r="17"/>
</g>
</g>

<g id="signals">
<use href="#cr" transform="translate(405 439.3)"/><use href="#cr" transform="translate(403.7 461.9)"/>
<use href="#cr" transform="translate(704 451)"/><use href="#cr" transform="translate(962.7 451)"/>
<use href="#cr" transform="translate(1175 440.3)"/><use href="#cr" transform="translate(1328.5 440.3)"/>
<use href="#cf" transform="translate(487 227.3) rotate(180)"/><use href="#cf" transform="translate(849 227.3) rotate(180)"/><use href="#cf" transform="translate(1112 227.3) rotate(180)"/><use href="#cf" transform="translate(1327 227.3) rotate(180)"/>
<use href="#cf" transform="translate(1614 256) rotate(180)"/><use href="#cr" transform="translate(1614 401)"/>
<use href="#hl" transform="translate(1611 355.7) rotate(180)"/><use href="#hl" transform="translate(2092 692.5) rotate(180)"/>
<use href="#cr" transform="translate(195.7 563) rotate(-90)"/><use href="#cr" transform="translate(286 568) rotate(-90)"/>
<use href="#cf" transform="translate(2095 1014) rotate(180)"/><use href="#cf" transform="translate(1960.7 920) rotate(-90)"/>
<use href="#cr" transform="translate(1866 1156.7) rotate(90)"/><use href="#hl" transform="translate(1898.7 1173.3) rotate(90)"/>
<use href="#cr" transform="translate(2082.5 1280)"/><use href="#hs2" transform="translate(2117.4 1280)"/>
</g>
<g id="legend">
<use href="#cr" transform="translate(2023 586.4)"/><use href="#cf" transform="translate(2023 610.4)"/><use href="#hl" transform="translate(2023 632.9)"/><use href="#hs2" transform="translate(2021 656)"/>
</g>
</svg>
